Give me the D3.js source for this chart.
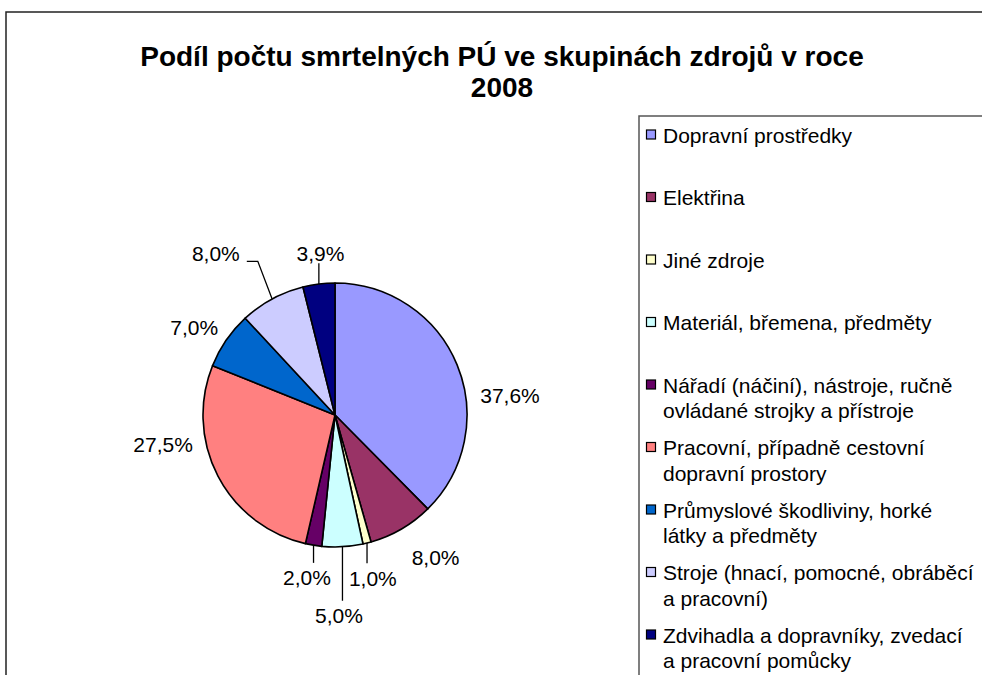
<!DOCTYPE html>
<html>
<head>
<meta charset="utf-8">
<script src="https://cdn.jsdelivr.net/npm/d3@7"></script>
<style>
    body { margin: 0; background: #fff; }
    svg { display: block; font-family: "Liberation Sans", Arial, sans-serif; }
</style>
</head>
<body>
<svg id="chart" width="982" height="675"></svg>
<script>

//*************************************************
// Data
//*************************************************
var titleText = 'Podíl počtu smrtelných PÚ ve skupinách zdrojů v roce 2008';

var categories = [
    'Dopravní prostředky',
    'Elektřina',
    'Jiné zdroje',
    'Materiál, břemena, předměty',
    'Nářadí (náčiní), nástroje, ručně ovládané strojky a přístroje',
    'Pracovní, případně cestovní dopravní prostory',
    'Průmyslové škodliviny, horké látky a předměty',
    'Stroje (hnací, pomocné, obráběcí a pracovní)',
    'Zdvihadla a dopravníky, zvedací a pracovní pomůcky'
];

var values = [37.6, 8.0, 1.0, 5.0, 2.0, 27.5, 7.0, 8.0, 3.9];

var colors = ['#9999ff', '#993366', '#ffffcc', '#ccffff', '#660066', '#ff8080', '#0066cc', '#ccccff', '#000080'];

//*************************************************
// Layout tweaks for the data labels (Excel "best fit")
//*************************************************
var labelNudge = [[27, 41], [20, 4], [-1, 8], [-5, 41], [-2, 5], [-30, -44], [-9, 3], [-43, -21], [5, -3]];
var leaders = [null, null, 'down', 'down', 'down', null, null, 'elbow', 'up'];


var pieChart = function (){

    var _cx = 335;
    var _cy = 415;
    var _radius = 132;
    var _labelRadius = 160;
    var _fontSize = 21;

    function chart(svg){

        var fmt = d3.format('.1f');

        // outer chart frame
        svg.append('rect')
            .attr('x', 6).attr('y', 12)
            .attr('width', 1000).attr('height', 700)
            .style('fill', '#fff').style('stroke', '#222').style('stroke-width', 1.5);

        //----------------------------------------------------------------------------------
        // Title
        //----------------------------------------------------------------------------------
        var title = svg.append('text')
            .attr('text-anchor', 'middle')
            .style('font-size', '28px')
            .style('font-weight', 'bold');
        wrapText(title, titleText, 760, 502, 66, 31);

        //----------------------------------------------------------------------------------
        // Pie
        //----------------------------------------------------------------------------------
        var pie = d3.pie().sort(null).value(function (d){ return d; });
        var arcs = pie(values);
        var arc = d3.arc().innerRadius(0).outerRadius(_radius);

        var g = svg.append('g')
            .attr('transform', 'translate(' + _cx + ',' + _cy + ')');

        g.selectAll('path.slice')
            .data(arcs)
            .enter().append('path')
            .attr('class', 'slice')
            .attr('d', arc)
            .style('fill', function (d, i){ return colors[i]; })
            .style('stroke', '#000')
            .style('stroke-width', 1.6)
            .style('stroke-linejoin', 'round');

        // label positions
        var pts = arcs.map(function (d, i){
            var a = (d.startAngle + d.endAngle) / 2;
            return {
                a: a,
                ex: Math.sin(a) * _radius,
                ey: -Math.cos(a) * _radius,
                x: Math.sin(a) * _labelRadius + labelNudge[i][0],
                y: -Math.cos(a) * _labelRadius + labelNudge[i][1]
            };
        });

        // leader lines
        g.selectAll('path.leader')
            .data(pts.filter(function (p, i){ return leaders[i]; }).map(function (p){
                return {p: p, type: leaders[pts.indexOf(p)]};
            }))
            .enter().append('path')
            .attr('class', 'leader')
            .attr('d', function (d){
                var p = d.p;
                if (d.type === 'down'){
                    return 'M' + p.ex + ',' + p.ey + 'V' + (p.y - 15);
                }
                if (d.type === 'up'){
                    return 'M' + p.ex + ',' + p.ey + 'V' + (p.y + 10);
                }
                // elbow to the right side of the label
                return 'M' + p.ex + ',' + p.ey + 'L' + (p.x + 42) + ',' + (p.y + 8) + 'H' + (p.x + 31);
            })
            .style('fill', 'none')
            .style('stroke', '#000')
            .style('stroke-width', 1.3);

        g.selectAll('text.lbl')
            .data(pts)
            .enter().append('text')
            .attr('class', 'lbl')
            .attr('x', function (d){ return d.x; })
            .attr('y', function (d){ return d.y; })
            .attr('dy', '0.35em')
            .attr('text-anchor', 'middle')
            .style('font-size', _fontSize + 'px')
            .style('fill', '#000')
            .text(function (d, i){ return fmt(values[i]).replace('.', ',') + '%'; });

        //----------------------------------------------------------------------------------
        // Legend
        //----------------------------------------------------------------------------------
        svg.append('rect')
            .attr('x', 639).attr('y', 116)
            .attr('width', 400).attr('height', 600)
            .style('fill', '#fff').style('stroke', '#555').style('stroke-width', 1.5);

        var legendY = d3.scaleLinear().domain([0, 1]).range([135, 197.5]);

        var items = svg.selectAll('g.legendItem')
            .data(categories)
            .enter().append('g')
            .attr('class', 'legendItem')
            .attr('transform', function (d, i){ return 'translate(0,' + legendY(i) + ')'; });

        items.append('rect')
            .attr('x', 646.5).attr('y', -5)
            .attr('width', 9).attr('height', 9)
            .style('fill', function (d, i){ return colors[i]; })
            .style('stroke', '#000')
            .style('stroke-width', 1.2);

        items.each(function (d){
            var t = d3.select(this).append('text')
                .style('font-size', _fontSize + 'px')
                .style('fill', '#000');
            wrapText(t, d, 314, 663, 7.5, 25.5);
        });

    } //function chart

    //----------------------------------------------------------------------------------
    // Helper Functions
    //----------------------------------------------------------------------------------
    function wrapText(textSel, str, maxWidth, x, y, lineHeight){
        var words = str.split(' ');
        var line = [];
        var lineNo = 0;
        var tspan = textSel.append('tspan').attr('x', x).attr('y', y);
        words.forEach(function (w){
            line.push(w);
            tspan.text(line.join(' '));
            if (tspan.node().getComputedTextLength() > maxWidth && line.length > 1){
                line.pop();
                tspan.text(line.join(' '));
                line = [w];
                lineNo++;
                tspan = textSel.append('tspan').attr('x', x).attr('y', y + lineNo * lineHeight).text(w);
            }
        });
    }

    return chart;
};

d3.select('#chart').call(pieChart());

</script>
</body>
</html>
